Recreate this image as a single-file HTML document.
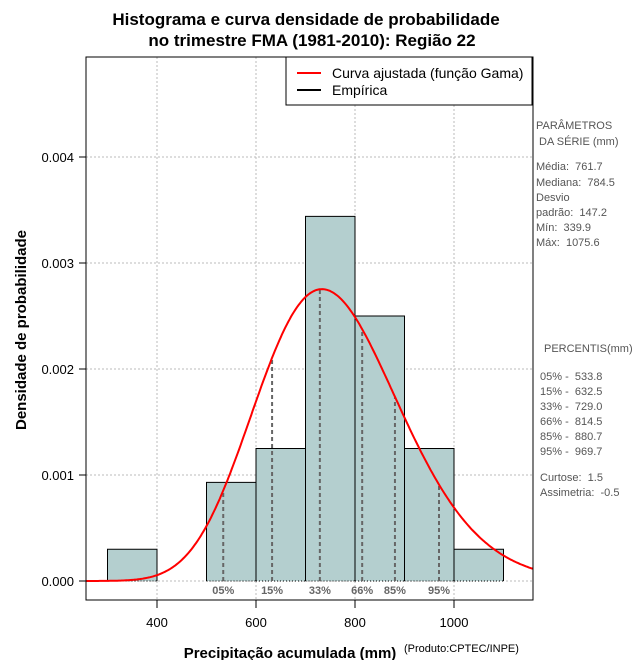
<!DOCTYPE html>
<html><head><meta charset="utf-8"><style>
body{margin:0;background:#fff;}
svg{font-family:"Liberation Sans",sans-serif;}
text{white-space:pre;}
</style></head><body>
<svg id="chart" width="640" height="660" xmlns="http://www.w3.org/2000/svg">
<rect width="640" height="660" fill="#fff"/>
<text x="306" y="25" text-anchor="middle" font-size="17" font-weight="bold">Histograma e curva densidade de probabilidade</text>
<text x="312" y="46" text-anchor="middle" font-size="17" font-weight="bold">no trimestre FMA (1981-2010): Região 22</text>
<g id="grid"></g><g id="bars"></g><g id="curve"></g><g id="axes"></g>
<g>
<rect x="286" y="57" width="246" height="48" fill="#fff" stroke="#000"/>
<line x1="297" y1="73" x2="321" y2="73" stroke="#f00" stroke-width="2"/>
<line x1="297" y1="90" x2="321" y2="90" stroke="#000" stroke-width="2"/>
<text x="332" y="78" font-size="14">Curva ajustada (função Gama)</text>
<text x="332" y="95" font-size="14">Empírica</text>
</g>
<text transform="translate(26,330) rotate(-90)" text-anchor="middle" font-size="15" font-weight="bold">Densidade de probabilidade</text>
<text x="290" y="658" text-anchor="middle" font-size="15" font-weight="bold">Precipitação acumulada (mm)</text>
<text x="404" y="652" font-size="11">(Produto:CPTEC/INPE)</text>
<g font-size="11" fill="#555">
<text x="536" y="129">PARÂMETROS</text><text x="536" y="145"> DA SÉRIE (mm)</text>
<text x="536" y="170">Média:  761.7</text><text x="536" y="186">Mediana:  784.5</text>
<text x="536" y="201">Desvio</text><text x="536" y="216">padrão:  147.2</text>
<text x="536" y="231">Mín:  339.9</text><text x="536" y="246">Máx:  1075.6</text>
<text x="544" y="352">PERCENTIS(mm)</text>
<text x="540" y="380">05% -  533.8</text><text x="540" y="395">15% -  632.5</text>
<text x="540" y="410">33% -  729.0</text><text x="540" y="425">66% -  814.5</text>
<text x="540" y="440">85% -  880.7</text><text x="540" y="455">95% -  969.7</text>
<text x="540" y="481">Curtose:  1.5</text><text x="540" y="496">Assimetria:  -0.5</text>
</g>
</svg>
<script>
const binStarts=[300,400,500,600,700,800,900,1000];
const densities=[0.0003,0,0.00093,0.00125,0.00344,0.0025,0.00125,0.0003];
const binWidth=100;
const xTicks=[400,600,800,1000];
const yTicks=[0,0.001,0.002,0.003,0.004];
const yTickLabels=["0.000","0.001","0.002","0.003","0.004"];
const pctLabels=["05%","15%","33%","66%","85%","95%"];
const pctValues=[533.8,632.5,729.0,814.5,880.7,969.7];
const mean=761.7, sd=147.2;
const L=86,R=533,T=57,B=600;
const xs=v=>157+(v-400)*0.495;
const ys=v=>581-v*106000;
const NS="http://www.w3.org/2000/svg";
function mk(t,a,p){const e=document.createElementNS(NS,t);for(const k in a)e.setAttribute(k,a[k]);p.appendChild(e);return e;}
function lgamma(z){const g=7,c=[0.99999999999980993,676.5203681218851,-1259.1392167224028,771.32342877765313,-176.61502916214059,12.507343278686905,-0.13857109526572012,9.9843695780195716e-6,1.5056327351493116e-7];z-=1;let x=c[0];for(let i=1;i<g+2;i++)x+=c[i]/(z+i);const t=z+g+0.5;return 0.5*Math.log(2*Math.PI)+(z+0.5)*Math.log(t)-t+Math.log(x);}
const k=(mean/sd)**2, th=sd*sd/mean;
const pdf=x=>x<=0?0:Math.exp((k-1)*Math.log(x)-x/th-lgamma(k)-k*Math.log(th));
const grid=document.getElementById('grid');
xTicks.forEach(v=>{const l=mk('line',{x1:xs(v),x2:xs(v),y1:T,y2:B,stroke:'#bbb','stroke-dasharray':'2,2'},grid);});
yTicks.forEach(v=>{const l=mk('line',{x1:L,x2:R,y1:ys(v),y2:ys(v),stroke:'#bbb','stroke-dasharray':'2,2'},grid);});
const bars=document.getElementById('bars');
binStarts.forEach((s,i)=>{if(densities[i]<=0)return;const x0=xs(s),x1=xs(s+binWidth),y=ys(densities[i]),y0=ys(0);
const r=mk('rect',{x:x0,y:y,width:x1-x0,height:y0-y,fill:'#b4cfcf',stroke:'none'},bars);


mk('path',{d:`M${x0},${y0}V${y}H${x1}V${y0}`,fill:'none',stroke:'#000'},bars);
mk('line',{x1:x0,x2:x1,y1:y0,y2:y0,stroke:'#000','stroke-dasharray':'1,2'},bars);});
const cg=document.getElementById('curve');
pctValues.forEach((v,i)=>{const l=mk('line',{x1:xs(v),x2:xs(v),y1:ys(0),y2:ys(pdf(v)),stroke:'#666','stroke-width':2,'stroke-dasharray':'4,3'},cg);


const t=mk('text',{x:xs(v),y:594,'text-anchor':'middle','font-size':11,'font-weight':'bold',fill:'#666'},cg);t.textContent=pctLabels[i];

});
let d='';for(let x=257;x<=1160;x+=3){d+=(d?'L':'M')+xs(x).toFixed(1)+','+ys(pdf(x)).toFixed(1);}
const c=mk('path',{d:d,fill:'none',stroke:'#f00','stroke-width':2},cg);


const ax=document.getElementById('axes');
mk('rect',{x:L,y:T,width:R-L,height:B-T,fill:'none',stroke:'#000'},ax);
xTicks.forEach(v=>{mk('line',{x1:xs(v),x2:xs(v),y1:B,y2:B+8,stroke:'#000'},ax);const t=mk('text',{x:xs(v),y:627,'text-anchor':'middle','font-size':13},ax);t.textContent=v;

});
yTicks.forEach((v,i)=>{mk('line',{x1:L-7,x2:L,y1:ys(v),y2:ys(v),stroke:'#000'},ax);const t=mk('text',{x:L-12,y:ys(v)+5,'text-anchor':'end','font-size':13},ax);t.textContent=yTickLabels[i];

});
</script>
</body></html>
